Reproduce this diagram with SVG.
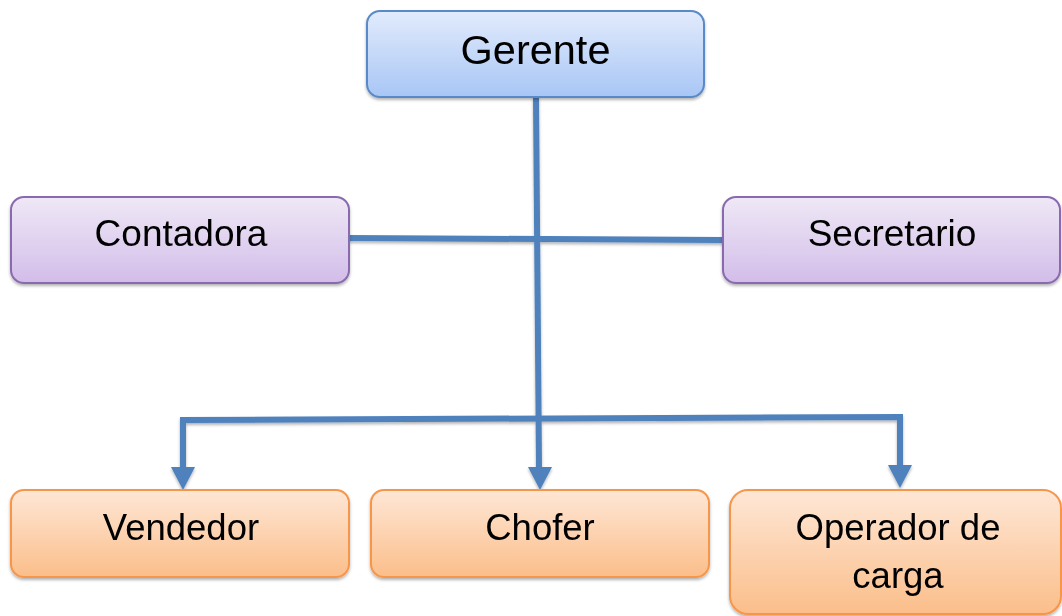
<svg xmlns="http://www.w3.org/2000/svg" width="1062" height="616" viewBox="0 0 1062 616">
<style>
.t{font-family:"Liberation Sans",Arial,sans-serif;fill:#000;text-anchor:middle}
.blue{fill:url(#gBlue);stroke:#5a89c8;stroke-width:2}
.purple{fill:url(#gPurple);stroke:#8a6aaf;stroke-width:2}
.orange{fill:url(#gOrange);stroke:#f7964a;stroke-width:2}
.conn{fill:none;stroke:#4f81bd;stroke-width:6}
.head{fill:#4f81bd}
</style>
<defs>
<linearGradient id="gBlue" x1="0" y1="0" x2="0" y2="1"><stop offset="0" stop-color="#e2ebfc"/><stop offset="1" stop-color="#a8c6f5"/></linearGradient>
<linearGradient id="gPurple" x1="0" y1="0" x2="0" y2="1"><stop offset="0" stop-color="#efe8f6"/><stop offset="1" stop-color="#d2bde9"/></linearGradient>
<linearGradient id="gOrange" x1="0" y1="0" x2="0" y2="1"><stop offset="0" stop-color="#fee7d6"/><stop offset="1" stop-color="#fbbe8a"/></linearGradient>
<filter id="sh" x="-10%" y="-10%" width="120%" height="130%"><feDropShadow dx="0" dy="2" stdDeviation="1.5" flood-color="#000" flood-opacity="0.3"/></filter>
</defs>
<g id="connectors" filter="url(#sh)">
<path class="conn" d="M536,97 L539,468"/>
<polygon class="head" points="528,467 552,467 540,490"/>
<path class="conn" d="M349,238 L723,240"/>
<path class="conn" d="M183,469 L183,420 L900,417 L900,469"/>
<polygon class="head" points="171,467 195,467 183,490"/>
<polygon class="head" points="888,465 912,465 900,488"/>
</g>
<g id="gerente" filter="url(#sh)">
<rect class="blue" x="367" y="11" width="337" height="86" rx="13"/>
<text class="t" x="535.5" y="64" font-size="41.5">Gerente</text>
</g>
<g id="contadora" filter="url(#sh)">
<rect class="purple" x="11" y="197" width="338" height="86" rx="13"/>
<text class="t" x="181" y="246" font-size="37">Contadora</text>
</g>
<g id="secretario" filter="url(#sh)">
<rect class="purple" x="723" y="197" width="337" height="86" rx="13"/>
<text class="t" x="892" y="246" font-size="37">Secretario</text>
</g>
<g id="vendedor" filter="url(#sh)">
<rect class="orange" x="11" y="490" width="338" height="87" rx="13"/>
<text class="t" x="181" y="540" font-size="36.5">Vendedor</text>
</g>
<g id="chofer" filter="url(#sh)">
<rect class="orange" x="371" y="490" width="338" height="87" rx="13"/>
<text class="t" x="540" y="540" font-size="36.5">Chofer</text>
</g>
<g id="operador" filter="url(#sh)">
<rect class="orange" x="730" y="490" width="331" height="124" rx="18"/>
<text class="t" x="898" y="540" font-size="36.5">Operador de</text>
<text class="t" x="898" y="588" font-size="36.5">carga</text>
</g>
</svg>
